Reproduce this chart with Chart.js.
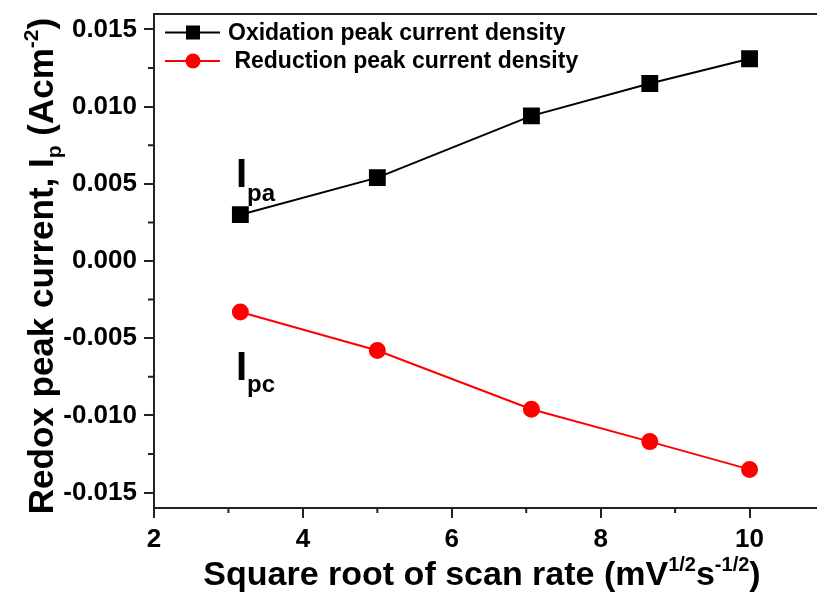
<!DOCTYPE html>
<html>
<head>
<meta charset="utf-8">
<script src="https://cdn.jsdelivr.net/npm/chart.js@4.4.1/dist/chart.umd.min.js"></script>
<style>
  html, body { margin: 0; padding: 0; background: #fff; overflow: hidden; }
  #ipChart { display: block; }
</style>
</head>
<body>
<canvas id="ipChart" width="830" height="596"></canvas>
<script>
// square root of scan rate (10, 25, 50, 75, 100 mV/s)
const scanRoot = [3.16, 5.0, 7.07, 8.66, 10.0];
const oxidation = [0.0030, 0.0054, 0.0094, 0.0115, 0.0131];
const reduction = [-0.0033, -0.0058, -0.0096, -0.0117, -0.0135];

const xTicks = [2, 4, 6, 8, 10];
const xMinor = [3, 5, 7, 9];
const yTicks = [-0.015, -0.010, -0.005, 0.000, 0.005, 0.010, 0.015];
const yTickLabels = ['-0.015', '-0.010', '-0.005', '0.000', '0.005', '0.010', '0.015'];
const yMinor = [-0.0125, -0.0075, -0.0025, 0.0025, 0.0075, 0.0125];

const seriesNames = ['Oxidation peak current density', ' Reduction peak current density'];

const FONT = '"Liberation Sans", Arial, sans-serif';

// draws text made of [text, size, yShift] pieces
function drawRich(ctx, parts, x, y, align) {
    let total = 0;
    parts.forEach(p => {
        ctx.font = `bold ${p[1]}px ${FONT}`;
        total += ctx.measureText(p[0]).width;
    });
    let cx = align === 'center' ? x - total / 2 : x;
    parts.forEach(p => {
        ctx.font = `bold ${p[1]}px ${FONT}`;
        ctx.fillText(p[0], cx, y + p[2]);
        cx += ctx.measureText(p[0]).width;
    });
}

const extras = {
    id: 'extras',
    afterDraw(chart) {
        const { ctx, chartArea: a, scales: { x, y } } = chart;
        ctx.save();

        // top edge of the frame (right edge falls outside the picture)
        ctx.strokeStyle = '#222';
        ctx.lineWidth = 2;
        ctx.beginPath();
        ctx.moveTo(x.left, y.top);
        ctx.lineTo(x.right + 10, y.top);
        ctx.stroke();

        // minor ticks
        ctx.beginPath();
        xMinor.forEach(v => {
            const px = x.getPixelForValue(v);
            ctx.moveTo(px, y.bottom);
            ctx.lineTo(px, y.bottom + 5);
        });
        yMinor.forEach(v => {
            const py = y.getPixelForValue(v);
            ctx.moveTo(x.left, py);
            ctx.lineTo(x.left - 6, py);
        });
        ctx.stroke();

        // axis titles
        ctx.fillStyle = '#000';
        ctx.textBaseline = 'alphabetic';
        drawRich(ctx, [
            ['Square root of scan rate (mV', 34, 0],
            ['1/2', 20, -14],
            ['s', 34, 0],
            ['-1/2', 20, -14],
            [')', 34, 0]
        ], 482, 585, 'center');

        ctx.save();
        ctx.translate(53, 266);
        ctx.rotate(-Math.PI / 2);
        drawRich(ctx, [
            ['Redox peak current, I', 35, 0],
            ['p', 21, 8],
            [' (Acm', 35, 0],
            ['-2', 21, -15],
            [')', 35, 0]
        ], 0, 0, 'center');
        ctx.restore();

        // legend
        chart.data.datasets.forEach((ds, i) => {
            const ly = [32.5, 61][i];
            ctx.strokeStyle = ds.borderColor;
            ctx.lineWidth = 2;
            ctx.beginPath();
            ctx.moveTo(165, ly);
            ctx.lineTo(220, ly);
            ctx.stroke();
            ctx.fillStyle = ds.backgroundColor;
            if (ds.pointStyle === 'rect') {
                ctx.fillRect(193 - 7, ly - 7, 14, 14);
            } else {
                ctx.beginPath();
                ctx.arc(193, ly, 7.5, 0, Math.PI * 2);
                ctx.fill();
            }
            ctx.fillStyle = '#000';
            ctx.font = `bold 23px ${FONT}`;
            ctx.textBaseline = 'middle';
            ctx.fillText(ds.label, 228, ly + 1);
        });

        // Ipa / Ipc labels
        ctx.textBaseline = 'alphabetic';
        ctx.fillStyle = '#000';
        drawRich(ctx, [['I', 40, 0], ['pa', 24, 14]], 236, 187, 'left');
        drawRich(ctx, [['I', 40, 0], ['pc', 24, 12]], 236, 380, 'left');

        ctx.restore();
    }
};

const ctx = document.getElementById('ipChart').getContext('2d');

const ipChart = new Chart(ctx, {
    type: 'line',
    data: {
        datasets: [{
            label: seriesNames[0],
            data: scanRoot.map((v, i) => ({ x: v, y: oxidation[i] })),
            borderColor: '#000',
            backgroundColor: '#000',
            borderWidth: 2,
            pointStyle: 'rect',
            pointRadius: 10.5,
            pointHoverRadius: 10.5,
            tension: 0
        }, {
            label: seriesNames[1],
            data: scanRoot.map((v, i) => ({ x: v, y: reduction[i] })),
            borderColor: '#ff0000',
            backgroundColor: '#ff0000',
            borderWidth: 2,
            pointStyle: 'circle',
            pointRadius: 7.5,
            pointHoverRadius: 7.5,
            tension: 0
        }]
    },
    options: {
        responsive: false,
        animation: false,
        events: [],
        layout: { autoPadding: false, padding: { top: 14, right: 6, left: 0, bottom: 0 } },
        plugins: {
            legend: { display: false },
            tooltip: { enabled: false }
        },
        scales: {
            x: {
                type: 'linear',
                min: 2,
                max: 11,
                afterBuildTicks: s => { s.ticks = xTicks.map(v => ({ value: v })); },
                afterFit: s => {
                    s.height = 88;
                    s.paddingLeft = 0;
                    s.paddingRight = 0;
                },
                border: { display: true, color: '#222', width: 2 },
                grid: { drawOnChartArea: false, drawTicks: true, tickLength: 10, tickColor: '#222', lineWidth: 2 },
                ticks: {
                    color: '#000',
                    padding: 6,
                    maxRotation: 0,
                    font: { family: FONT, size: 26, weight: 'bold' },
                    callback: v => String(v)
                }
            },
            y: {
                type: 'linear',
                min: -0.016,
                max: 0.016,
                afterBuildTicks: s => { s.ticks = yTicks.map(v => ({ value: v })); },
                afterFit: s => {
                    s.width = 154;
                    s.paddingTop = 0;
                    s.paddingBottom = 0;
                },
                border: { display: true, color: '#222', width: 2 },
                grid: { drawOnChartArea: false, drawTicks: true, tickLength: 10, tickColor: '#222', lineWidth: 2 },
                ticks: {
                    color: '#000',
                    padding: 7,
                    font: { family: FONT, size: 26, weight: 'bold' },
                    callback: (v, i) => yTickLabels[i]
                }
            }
        }
    },
    plugins: [extras]
});
</script>
</body>
</html>
